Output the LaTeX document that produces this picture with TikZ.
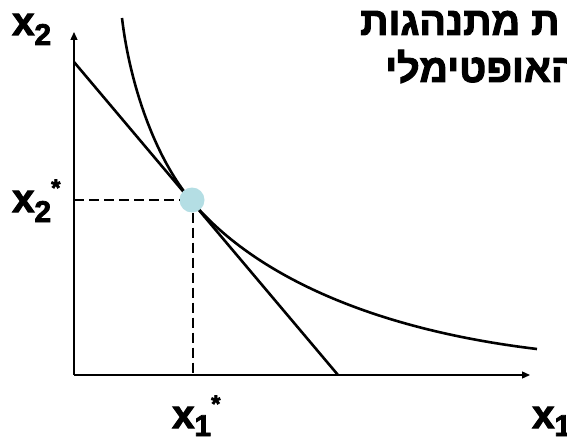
\documentclass[tikz,border=0pt]{standalone}
\usepackage{fontspec}
\setmainfont{Liberation Sans}
\newfontfamily\lblfont[FakeBold=2.5]{Liberation Sans Bold}
\newfontfamily\hebfont[Script=Hebrew,FakeBold=2.5]{Liberation Sans Bold}
\TeXXeTstate=1
\usetikzlibrary{arrows.meta}
\definecolor{dotblue}{RGB}{180,222,228}
\tikzset{
  axisline/.style={line width=1.3pt,-{Triangle[length=8pt,width=7pt]}},
  curveline/.style={line width=2.6pt},
  guide/.style={line width=2.4pt,dash pattern=on 10pt off 5pt},
  lbl/.style={inner sep=0pt,anchor=base west,font=\fontsize{40}{40}\lblfont},
  heb/.style={inner sep=0pt,anchor=base west,font=\fontsize{39.5}{39.5}\hebfont},
  optdot/.style={circle,fill=dotblue,minimum size=25pt,inner sep=0pt}
}
\newcommand{\subdig}[2]{{\fontsize{30}{30}\selectfont\raisebox{-#1pt}{#2}}}
\newcommand{\astx}{{\fontsize{24}{24}\selectfont\raisebox{16pt}{*}}}
\begin{document}
\begin{tikzpicture}[x=1pt,y=-1pt]
\useasboundingbox (0,0) rectangle (567,441);
\clip (0,0) rectangle (567,441);
\fill[white] (0,0) rectangle (567,441);
% axes
\coordinate (O) at (74,375);
\coordinate (ytop) at (74,32);
\coordinate (xend) at (530,375);
\draw[axisline] (O) -- (ytop);
\draw[axisline] (O) -- (xend);
% budget line
\coordinate (b1) at (74,62);
\coordinate (b2) at (338,375);
\draw[curveline] (b1) -- (b2);
% indifference curve
\coordinate (c0) at (122,18);
\coordinate (T) at (192,201.5);
\coordinate (c3) at (537,349);
\draw[curveline] (c0) .. controls (129,78) and (152,154.1) .. (T)
  .. controls (252,272.6) and (367,328.6) .. (c3);
% optimum
\coordinate (ya) at (74,200);
\coordinate (xa) at (193,375);
\node[optdot] (P) at (192,200) {};
\draw[guide] (ya) -- (P.west);
\draw[guide] (P.south -| xa) -- (xa);
% labels
\node[lbl] (lx2) at (12,35) {x\subdig{10}{2}};
\node[lbl] (lx2s) at (12,212) {x\subdig{10}{2}\astx};
\node[lbl] (lx1s) at (172,428) {x\subdig{8}{1}\astx};
\node[lbl] (lx1) at (532,428) {x\subdig{8}{1}};
% hebrew text
\node[heb] (h1) at (360,35) {\beginR ת מתנהגות\endR};
\node[heb] (h2) at (385,82) {\beginR האופטימלי\endR};
\end{tikzpicture}
\end{document}
